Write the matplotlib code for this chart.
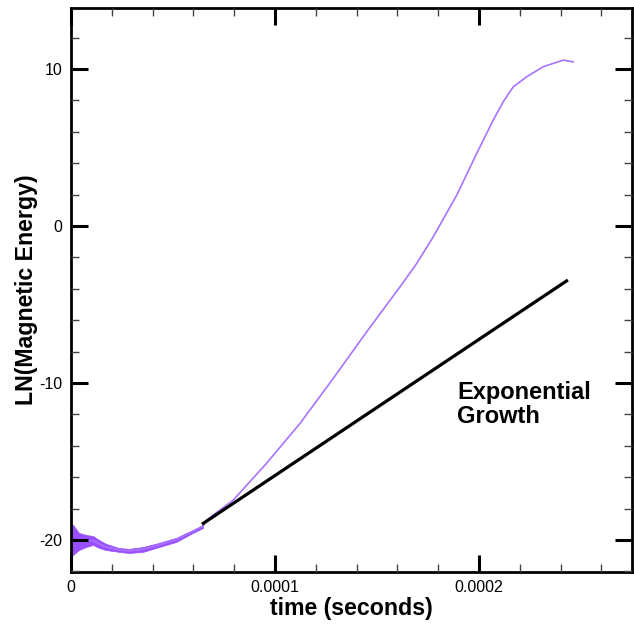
import numpy as np
import matplotlib
matplotlib.use('Agg')
import matplotlib.pyplot as plt

plt.rcParams['font.family'] = ['Liberation Sans', 'DejaVu Sans']
plt.rcParams['axes.unicode_minus'] = False

# ── DATA (time in microseconds) ───────────────────────────────
t_us = [0, 1, 3.9, 7.4, 10.8, 13.7, 17.2, 23.5, 28.4, 35.3, 43.1, 51.5,
        59.8, 64.7, 66.5, 79.6, 95.9, 112.3, 128.6, 145.0, 161.3, 169.5,
        177.6, 189.1, 198.9, 207.0, 211.9, 216.8, 223.4, 231.5, 241.3, 246.2]
ln_energy = [-20.0, -20.0, -20.1, -20.07, -20.03, -20.25, -20.45, -20.63,
             -20.70, -20.6, -20.32, -20.0, -19.45, -19.14, -18.73, -17.45,
             -15.11, -12.57, -9.70, -6.73, -3.87, -2.38, -0.68, 1.97, 4.63,
             6.75, 7.92, 8.87, 9.51, 10.15, 10.57, 10.46]

# early noisy oscillation envelope
env_t_us = [0, 1, 3.9, 7.4, 10.8, 13.7, 17.2, 23.5, 28.4, 35.3, 43.1, 51.5, 59.8, 64.7]
env_upper = [-18.95, -19.04, -19.55, -19.68, -19.75, -20.0, -20.25, -20.51,
             -20.57, -20.45, -20.19, -19.87, -19.36, -19.04]
env_lower = [-21.08, -20.96, -20.64, -20.45, -20.32, -20.51, -20.64, -20.76,
             -20.83, -20.76, -20.45, -20.13, -19.55, -19.24]

# exponential growth fit line
fit_t_us = [64.2, 243.6]
fit_ln = [-19.0, -3.44]

x_ticks = [0, 0.0001, 0.0002]
x_tick_labels = ['0', '0.0001', '0.0002']
y_ticks = [-20, -10, 0, 10]


def main():
    t = np.array(t_us) * 1e-6
    env_t = np.array(env_t_us) * 1e-6
    fit_t = np.array(fit_t_us) * 1e-6

    fig = plt.figure(figsize=(6.34, 6.26), dpi=100)
    ax = fig.add_axes([0.112, 0.0863, 0.8848, 0.9009])

    ax.fill_between(env_t, env_lower, env_upper, color='#9a4fff', lw=0.5,
                    edgecolor='#9a4fff')
    ax.plot(t, ln_energy, color='#a874ff', linewidth=1.2)
    ax.plot(fit_t, fit_ln, color='black', linewidth=2.3, solid_capstyle='butt')

    ax.text(0.0001892, -9.9, 'Exponential\nGrowth', fontsize=17,
            fontweight='bold', ha='left', va='top', linespacing=1.05)

    ax.set_xlim(0, 0.000275)
    ax.set_ylim(-22.04, 13.89)
    ax.set_xticks(x_ticks)
    ax.set_xticklabels(x_tick_labels)
    ax.set_yticks(y_ticks)
    ax.set_xticks(np.arange(0, 0.000275, 0.00002), minor=True)
    ax.set_yticks(np.arange(-22, 14, 2), minor=True)

    ax.tick_params(which='both', direction='in', top=True, right=True,
                   labelsize=11.5, pad=6)
    ax.tick_params(which='major', length=12, width=2.2)
    ax.tick_params(which='minor', length=6, width=1.0, color='#444444')
    ax.set_axisbelow(False)
    for s in ax.spines.values():
        s.set_linewidth(2.0)

    ax.set_xlabel('time (seconds)', fontsize=16.7, fontweight='bold', labelpad=1)
    ax.set_ylabel('LN(Magnetic Energy)', fontsize=16.7, fontweight='bold', labelpad=1)

    fig.savefig('out.png', dpi=100)


if __name__ == "__main__":
    main()
